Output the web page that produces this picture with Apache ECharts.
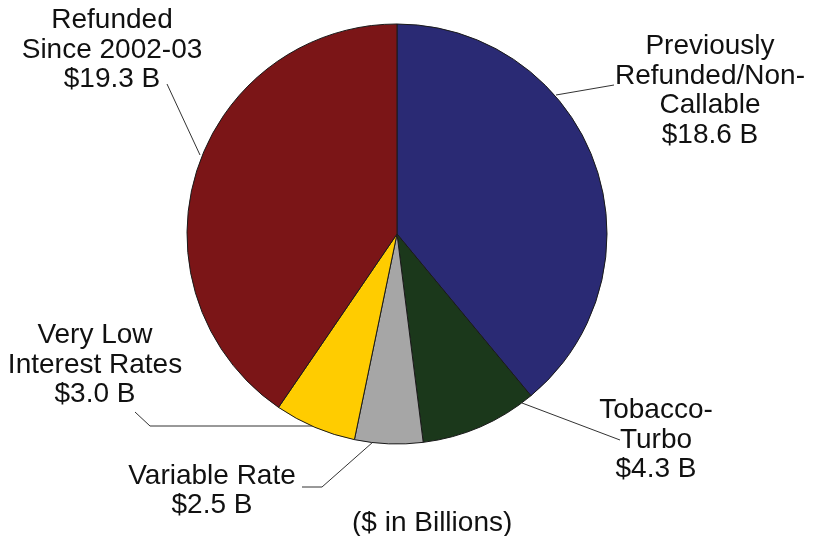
<!DOCTYPE html>
<html>
<head>
<meta charset="utf-8">
<script src="https://cdn.jsdelivr.net/npm/echarts@6/dist/echarts.min.js"></script>
<style>html,body{margin:0;padding:0;background:#fff;}#c{width:820px;height:536px;}</style>
</head>
<body>
<div id="c"></div>
<script>
const categories = ['Previously\nRefunded/Non-\nCallable', 'Tobacco-\nTurbo', 'Variable Rate', 'Very Low\nInterest Rates', 'Refunded\nSince 2002-03'];
const values = [18.6, 4.3, 2.5, 3.0, 19.3];
const valueLabels = ['$18.6 B', '$4.3 B', '$2.5 B', '$3.0 B', '$19.3 B'];
const colors = ['#2a2a74', '#1b381b', '#a6a6a6', '#ffcc00', '#7b1517'];
const unitNote = '($ in Billions)';

// label placement (centre of text block) and leader line points
const labelPos = [
  {x: 710, y: 91, line: [[556, 95], [614, 85], [614, 85]]},
  {x: 656, y: 440, line: [[522, 403], [620, 440], [620, 440]]},
  {x: 212, y: 491, line: [[373, 442], [322, 487], [302, 487]]},
  {x: 95, y: 365, line: [[313, 426], [150, 426], [135, 412]]},
  {x: 112, y: 50, line: [[200, 155], [167, 84], [167, 84]]}
];

const chart = echarts.init(document.getElementById('c'), null, {renderer: 'canvas'});
chart.setOption({
  animation: false,
  backgroundColor: '#ffffff',
  title: {
    text: unitNote,
    left: 347, top: 504,
    textStyle: {fontFamily: 'Liberation Sans, Arial, sans-serif', fontSize: 28, fontWeight: 'normal', color: '#111'}
  },
  series: [{
    type: 'pie',
    center: [397, 234],
    radius: 210,
    startAngle: 90,
    clockwise: true,
    avoidLabelOverlap: false,
    itemStyle: {borderColor: '#1a1a1a', borderWidth: 1},
    label: {
      show: true,
      position: 'outside',
      formatter: p => p.name + '\n' + valueLabels[p.dataIndex],
      fontFamily: 'Liberation Sans, Arial, sans-serif',
      fontSize: 28,
      lineHeight: 29.5,
      color: '#111',
      align: 'center'
    },
    labelLine: {show: true, lineStyle: {color: '#333', width: 1}, length: 10, length2: 10},
    labelLayout: function (params) {
      const lp = labelPos[params.dataIndex];
      return {x: lp.x, y: lp.y, align: 'center', verticalAlign: 'middle', labelLinePoints: lp.line};
    },
    emphasis: {disabled: true},
    data: categories.map((c, i) => ({name: c, value: values[i], itemStyle: {color: colors[i]}}))
  }]
});
</script>
</body>
</html>
